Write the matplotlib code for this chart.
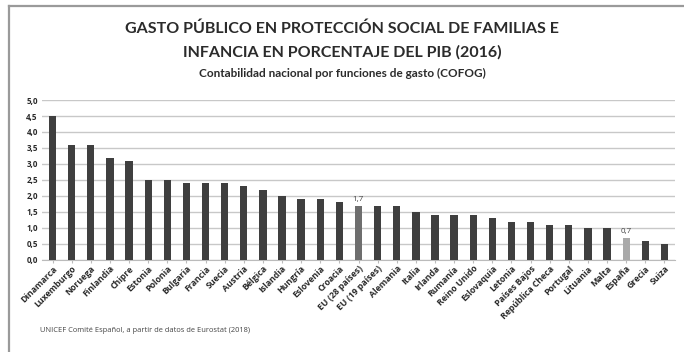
import matplotlib
matplotlib.use("Agg")
import matplotlib.pyplot as plt
from matplotlib.lines import Line2D

categories = ["Dinamarca", "Luxemburgo", "Noruega", "Finlandia", "Chipre", "Estonia",
              "Polonia", "Bulgaria", "Francia", "Suecia", "Austria", "Bélgica",
              "Islandia", "Hungría", "Eslovenia", "Croacia", "EU (28 países)",
              "EU (19 países)", "Alemania", "Italia", "Irlanda", "Rumanía",
              "Reino Unido", "Eslovaquia", "Letonia", "Países Bajos",
              "República Checa", "Portugal", "Lituania", "Malta", "España",
              "Grecia", "Suiza"]
values = [4.5, 3.6, 3.6, 3.2, 3.1, 2.5, 2.5, 2.4, 2.4, 2.4, 2.3, 2.2, 2.0, 1.9,
          1.9, 1.8, 1.7, 1.7, 1.7, 1.5, 1.4, 1.4, 1.4, 1.3, 1.2, 1.2, 1.1, 1.1,
          1.0, 1.0, 0.7, 0.6, 0.5]
highlight = {"EU (28 países)": "#6e6e6e", "España": "#a9a9a9"}
labelled = ["EU (28 países)", "España"]
yticks = [0.0, 0.5, 1.0, 1.5, 2.0, 2.5, 3.0, 3.5, 4.0, 4.5, 5.0]

W, H = 684, 352
fig = plt.figure(figsize=(W / 100, H / 100), dpi=100)
fig.patch.set_facecolor("white")

# frame (top and left edges only)
fig.add_artist(Line2D([9 / W, 9 / W], [0, 1 - 6 / H], transform=fig.transFigure,
                      color="#9a9a9a", linewidth=1.6))
fig.add_artist(Line2D([9 / W, 1], [1 - 6 / H, 1 - 6 / H], transform=fig.transFigure,
                      color="#9a9a9a", linewidth=1.6))

left, right, top, bottom = 42, 675, 100, 260
ax = fig.add_axes([left / W, 1 - bottom / H, (right - left) / W, (bottom - top) / H])

x = list(range(len(categories)))
colors = [highlight.get(c, "#3f3f3f") for c in categories]
ax.bar(x, values, width=0.38, color=colors, zorder=3)
ax.set_xlim(-0.55, len(categories) - 0.45)
ax.set_ylim(0, 5.0)
ax.set_yticks(yticks)
ax.set_yticklabels([f"{v:.1f}".replace(".", ",") for v in yticks],
                   fontsize=5.8, color="#2a2a2a", family="Open Sans", fontweight="bold")
ax.yaxis.grid(True, color="#c8c8c8", linewidth=1.0, zorder=0)
ax.set_axisbelow(True)
for s in ["top", "right", "left"]:
    ax.spines[s].set_visible(False)
ax.spines["bottom"].set_color("#bbbbbb")
ax.tick_params(axis="y", length=0, pad=3)
ax.tick_params(axis="x", length=2, color="#bbbbbb", pad=1)
ax.set_xticks(x)
ax.set_xticklabels(categories, rotation=45, ha="right", rotation_mode="anchor",
                   fontsize=6.3, color="#2a2a2a", family="Open Sans", fontweight="bold")

for c in labelled:
    i = categories.index(c)
    ax.text(i, values[i] + 0.08, f"{values[i]:.1f}".replace(".", ","),
            ha="center", va="bottom", fontsize=5.8, color="#444444", family="Open Sans")

fig.text(0.5, 1 - 29 / H, "GASTO PÚBLICO EN PROTECCIÓN SOCIAL DE FAMILIAS E",
         ha="center", va="center", fontsize=11.5, fontweight="bold", color="#2b2b2b",
         family="Lato")
fig.text(0.5, 1 - 52 / H, "INFANCIA EN PORCENTAJE DEL PIB (2016)",
         ha="center", va="center", fontsize=11.5, fontweight="bold", color="#2b2b2b",
         family="Lato")
fig.text(0.5, 1 - 73 / H, "Contabilidad nacional por funciones de gasto (COFOG)",
         ha="center", va="center", fontsize=8.5, fontweight="bold", color="#2b2b2b",
         family="Lato")
fig.text(40 / W, 1 - 330 / H, "UNICEF Comité Español, a partir de datos de Eurostat (2018)",
         ha="left", va="center", fontsize=5.4, color="#444444", family="Open Sans")

fig.savefig("out.png", dpi=100, facecolor="white")
